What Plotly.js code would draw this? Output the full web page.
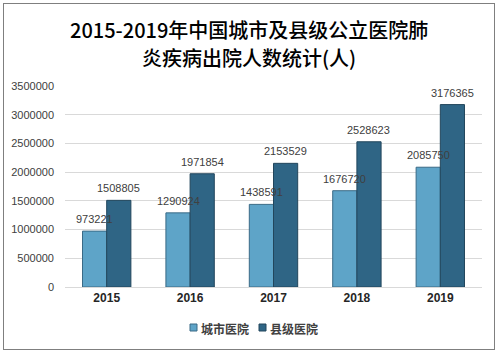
<!DOCTYPE html>
<html><head><meta charset="utf-8">
<script src="https://cdn.plot.ly/plotly-3.0.1.min.js"></script>
<style>body{margin:0;padding:0;background:#fff}#c{width:499px;height:356px}
#frame{position:absolute;left:3px;top:3px;width:490px;height:345px;border:1px solid #7f7f7f;pointer-events:none}</style>
</head><body><div id="c"></div><div id="frame"></div>
<script>
const years = ['2015','2016','2017','2018','2019'];
const cityHospitals = [973221, 1290924, 1438591, 1676720, 2085750];
const countyHospitals = [1508805, 1971854, 2153529, 2528623, 3176365];
const seriesNames = ['城市医院','县级医院'];
const titleLines = ['2015-2019年中国城市及县级公立医院肺','炎疾病出院人数统计(人)'];
const colors = ['#5ea4c8','#2f6585'];

const lbl = {family:'Liberation Sans, Arial, sans-serif', size:11, color:'#404040'};
const traces = [
  {type:'bar', name:seriesNames[0], x:years, y:cityHospitals,
   marker:{color:colors[0], line:{color:'#3a6a86', width:1}}},
  {type:'bar', name:seriesNames[1], x:years, y:countyHospitals,
   marker:{color:colors[1], line:{color:'#22465c', width:1}}}
];
const titleFont = {family:'Noto Sans CJK SC, sans-serif', size:20, color:'#000', weight:500};
const legFont = {family:'Noto Sans CJK SC, sans-serif', size:12, color:'#404040', weight:'bold'};
const PT = 86, PB = 287, PL = 65, PW = 417, PH = PB - PT;
const annotations = [
  {text:titleLines[0], xref:'paper', yref:'paper', x:(249-PL)/PW, y:(PB-30)/PH, showarrow:false, font:titleFont, xanchor:'center', yanchor:'middle'},
  {text:titleLines[1], xref:'paper', yref:'paper', x:(249-PL)/PW, y:(PB-57)/PH, showarrow:false, font:titleFont, xanchor:'center', yanchor:'middle'},
  {text:seriesNames[0], xref:'paper', yref:'paper', x:(199-PL)/PW, y:-(328-PB)/PH, showarrow:false, font:legFont, xanchor:'left', yanchor:'middle'},
  {text:seriesNames[1], xref:'paper', yref:'paper', x:(268-PL)/PW, y:-(328-PB)/PH, showarrow:false, font:legFont, xanchor:'left', yanchor:'middle'}
];
years.forEach((yr, i) => {
  annotations.push({text:String(cityHospitals[i]), x:i, y:cityHospitals[i], xref:'x', yref:'y', xshift:-12, yshift:4,
    showarrow:false, font:lbl, xanchor:'center', yanchor:'bottom'});
  annotations.push({text:String(countyHospitals[i]), x:i, y:countyHospitals[i], xref:'x', yref:'y', xshift:12, yshift:4,
    showarrow:false, font:lbl, xanchor:'center', yanchor:'bottom'});
});
const layout = {
  width:499, height:356,
  margin:{l:PL, r:499-PL-PW, t:PT, b:356-PB, autoexpand:false},
  paper_bgcolor:'#fff', plot_bgcolor:'#fff',
  barmode:'group', bargap:0.42, bargroupgap:0,
  xaxis:{type:'category', tickfont:{family:'Liberation Sans, Arial, sans-serif', size:12, color:'#262626', weight:'bold'},
    showline:true, linecolor:'#d9d9d9', linewidth:1, ticks:'', showgrid:false, automargin:false},
  yaxis:{range:[0,3500000], dtick:500000, tickformat:'d', gridcolor:'#d9d9d9', zeroline:false, automargin:false,
    tickfont:{family:'Liberation Sans, Arial, sans-serif', size:11, color:'#404040'}, ticks:'', showline:false,
    ticklabelstandoff:10},
  showlegend:false,
  annotations:annotations,
  shapes:[
    {type:'rect', xref:'paper', yref:'paper', x0:(190-PL)/PW, x1:(197-PL)/PW, y0:-(331-PB)/PH, y1:-(324-PB)/PH, fillcolor:colors[0], line:{color:'#3a6a86', width:1}},
    {type:'rect', xref:'paper', yref:'paper', x0:(259-PL)/PW, x1:(266-PL)/PW, y0:-(331-PB)/PH, y1:-(324-PB)/PH, fillcolor:colors[1], line:{color:'#22465c', width:1}}
  ]
};
Plotly.newPlot('c', traces, layout, {displayModeBar:false, staticPlot:true});
</script></body></html>
